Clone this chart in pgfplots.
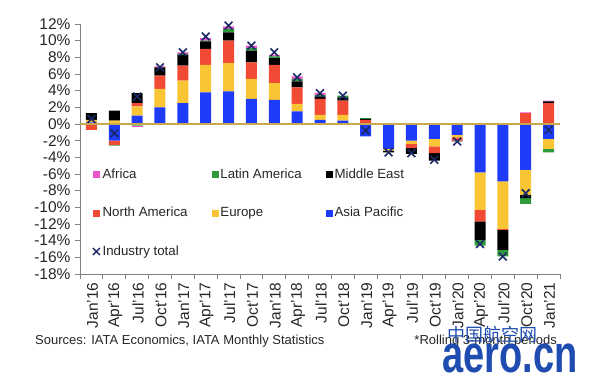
\documentclass[border=0pt]{standalone}
\usepackage{pgfplots}
\pgfplotsset{compat=1.18}
\usepackage{pgfplotstable}
\usepackage{fontspec}
\setmainfont{Liberation Sans}
\newfontfamily\cjk{Noto Sans CJK SC}

\definecolor{afcol}{HTML}{EE55CC}
\definecolor{lacol}{HTML}{2E9B3A}
\definecolor{mecol}{HTML}{000000}
\definecolor{nacol}{HTML}{F24B35}
\definecolor{eucol}{HTML}{FAC534}
\definecolor{apcol}{HTML}{1F3BFA}
\definecolor{totcol}{HTML}{1B2A66}
\definecolor{zerocol}{HTML}{C9A94E}
\definecolor{axcol}{HTML}{808080}
\definecolor{wmcol}{HTML}{1F4CB0}
\definecolor{txtcol}{HTML}{262626}

% positive contributions (percentage points)
\pgfplotstableread{
x ap eu na me la af
0 0.2 0.3 0 0.8 0 0
1 0 0.4 0 1.2 0 0
2 1.0 1.1 0.4 1.2 0 0
3 2.0 2.2 1.6 1.0 0 0.1
4 2.5 2.7 1.8 1.3 0.1 0.2
5 3.8 3.3 1.9 0.9 0.1 0.3
6 3.9 3.4 2.7 1.0 0.4 0.3
7 3.0 2.4 2.0 1.4 0.3 0.3
8 2.9 2.0 2.2 0.8 0.2 0.2
9 1.5 0.9 2.0 0.7 0.3 0.3
10 0.5 0.6 1.9 0.3 0.2 0.2
11 0.4 0.7 1.7 0.4 0.2 0
12 0 0 0.5 0.1 0.1 0
13 0 0 0 0 0 0.1
14 0 0 0 0 0 0.1
15 0 0 0 0 0 0.1
16 0 0 0 0 0 0.1
17 0 0 0 0 0 0.1
18 0 0 0 0 0 0.1
19 0 0 1.3 0 0 0.1
20 0 0 2.5 0.2 0 0.1
}\postab

% negative contributions
\pgfplotstableread{
x ap eu na me la af
0 0 0 -0.7 0 0 0
1 -2.0 0 -0.5 0 -0.1 0
2 0 0 0 0 -0.2 -0.1
3 0 0 0 0 0 0
4 0 0 0 0 0 0
5 0 0 0 0 0 0
6 0 0 0 0 0 0
7 0 0 0 0 0 0
8 0 0 0 0 0 0
9 0 0 0 0 0 0
10 0 0 0 0 0 0
11 0 0 0 0 0 0
12 -1.5 0 0 0 0 0
13 -3.0 -0.2 0 -0.2 0 0
14 -2.0 -0.4 -0.5 -0.7 0 0
15 -1.8 -0.9 -0.8 -0.9 0 0
16 -1.3 -0.3 -0.4 -0.1 0 0
17 -5.8 -4.5 -1.4 -2.2 -0.7 0
18 -6.9 -5.7 -0.1 -2.4 -0.8 0
19 -5.5 -3.0 0 -0.4 -0.7 0
20 -1.8 -1.2 0 0 -0.4 0
}\negtab

% industry total
\pgfplotstableread{
x tot
0 0.6
1 -1.1
2 3.3
3 6.8
4 8.6
5 10.5
6 11.8
7 9.4
8 8.6
9 5.6
10 3.7
11 3.4
12 -0.8
13 -3.4
14 -3.5
15 -4.3
16 -2.1
17 -14.4
18 -15.9
19 -8.3
20 -0.7
}\tottab

\pgfplotsset{
  base/.style={
    scale only axis, width=480pt, height=250pt,
    xmin=-0.5, xmax=20.5, ymin=-18, ymax=12,
    at={(0pt,0pt)}, anchor=south west,
  },
}

\begin{document}
\begin{tikzpicture}
\path[use as bounding box] (-80pt,-105pt) rectangle (520pt,274pt);

% axis with positive parts and all decorations
\begin{axis}[base,
  ybar stacked, bar width=11pt,
  axis x line*=bottom, axis y line*=left,
  axis line style={draw=axcol, line width=0.8pt},
  tick align=outside,
  major tick length=5pt, minor tick length=5pt,
  tick style={draw=axcol, line width=0.8pt},
  ytick={-18,-16,...,12},
  yticklabels={-18\%,-16\%,-14\%,-12\%,-10\%,-8\%,-6\%,-4\%,-2\%,0\%,2\%,4\%,6\%,8\%,10\%,12\%},
  xtick={0,...,20},
  xticklabels={Jan'16,Apr'16,Jul'16,Oct'16,Jan'17,Apr'17,Jul'17,Oct'17,Jan'18,Apr'18,Jul'18,Oct'18,Jan'19,Apr'19,Jul'19,Oct'19,Jan'20,Apr'20,Jul'20,Oct'20,Jan'21},
  major x tick style={draw=none},
  minor xtick={-0.5,0.5,...,20.5},
  tick label style={font=\fontsize{15.5}{17}\selectfont, text=txtcol},
  yticklabel style={xshift=-1pt},
  xticklabel style={rotate=90, anchor=east, yshift=-1pt},
]
\addplot[fill=apcol, draw=none] table[x=x, y=ap] {\postab};
\addplot[fill=eucol, draw=none] table[x=x, y=eu] {\postab};
\addplot[fill=nacol, draw=none] table[x=x, y=na] {\postab};
\addplot[fill=mecol, draw=none] table[x=x, y=me] {\postab};
\addplot[fill=lacol, draw=none] table[x=x, y=la] {\postab};
\addplot[fill=afcol, draw=none] table[x=x, y=af] {\postab};
\end{axis}

% negative parts
\begin{axis}[base, hide axis, ybar stacked, bar width=11pt]
\addplot[fill=apcol, draw=none] table[x=x, y=ap] {\negtab};
\addplot[fill=eucol, draw=none] table[x=x, y=eu] {\negtab};
\addplot[fill=nacol, draw=none] table[x=x, y=na] {\negtab};
\addplot[fill=mecol, draw=none] table[x=x, y=me] {\negtab};
\addplot[fill=lacol, draw=none] table[x=x, y=la] {\negtab};
\addplot[fill=afcol, draw=none] table[x=x, y=af] {\negtab};
\end{axis}

% zero line, totals, legend
\begin{axis}[base, hide axis,
  legend columns=3,
  legend cell align=left,
  legend style={at={(0.025,0.43)}, anchor=north west, draw=none, fill=none,
    inner sep=0pt, row sep=23.5pt,
    font=\fontsize{13.3}{15}\selectfont, text=txtcol,
    /tikz/every even column/.append style={column sep=22pt}},
]
\addplot[zerocol, line width=1.4pt, forget plot] coordinates {(-0.5,0) (20.5,0)};
\addplot[only marks, mark=x, mark size=5.5pt, mark options={draw=totcol, line width=1.6pt}, forget plot] table[x=x, y=tot] {\tottab};
\addlegendimage{legend image code/.code={\fill[afcol] (0pt,-3.2pt) rectangle (6.4pt,3.2pt);}}
\addlegendentry{Africa}
\addlegendimage{legend image code/.code={\fill[lacol] (0pt,-3.2pt) rectangle (6.4pt,3.2pt);}}
\addlegendentry{Latin America}
\addlegendimage{legend image code/.code={\fill[mecol] (0pt,-3.2pt) rectangle (6.4pt,3.2pt);}}
\addlegendentry{Middle East}
\addlegendimage{legend image code/.code={\fill[nacol] (0pt,-3.2pt) rectangle (6.4pt,3.2pt);}}
\addlegendentry{North America}
\addlegendimage{legend image code/.code={\fill[eucol] (0pt,-3.2pt) rectangle (6.4pt,3.2pt);}}
\addlegendentry{Europe}
\addlegendimage{legend image code/.code={\fill[apcol] (0pt,-3.2pt) rectangle (6.4pt,3.2pt);}}
\addlegendentry{Asia Pacific}
\addlegendimage{legend image code/.code={\draw[totcol, line width=1.4pt] (0pt,-3.5pt) -- (7pt,3.5pt) (0pt,3.5pt) -- (7pt,-3.5pt);}}
\addlegendentry{Industry total}
\end{axis}

\node[anchor=west, inner sep=0pt, text=txtcol, font=\fontsize{13}{15}\selectfont] at (-45pt,-67pt) {Sources: IATA Economics, IATA Monthly Statistics};
\node[anchor=east, inner sep=0pt, text=txtcol, font=\fontsize{13}{15}\selectfont] at (477pt,-67pt) {*Rolling 3-month periods};
\node[anchor=base west, inner sep=0pt, text=wmcol, font=\cjk\fontsize{18}{18}\selectfont] at (367pt,-68pt) {中国航空网};
\node[anchor=base west, inner sep=0pt, text depth=0pt, text=wmcol, font=\fontsize{38}{38}\selectfont\bfseries, yscale=1.4] at (362pt,-99pt) {aero.cn};
\end{tikzpicture}
\end{document}
